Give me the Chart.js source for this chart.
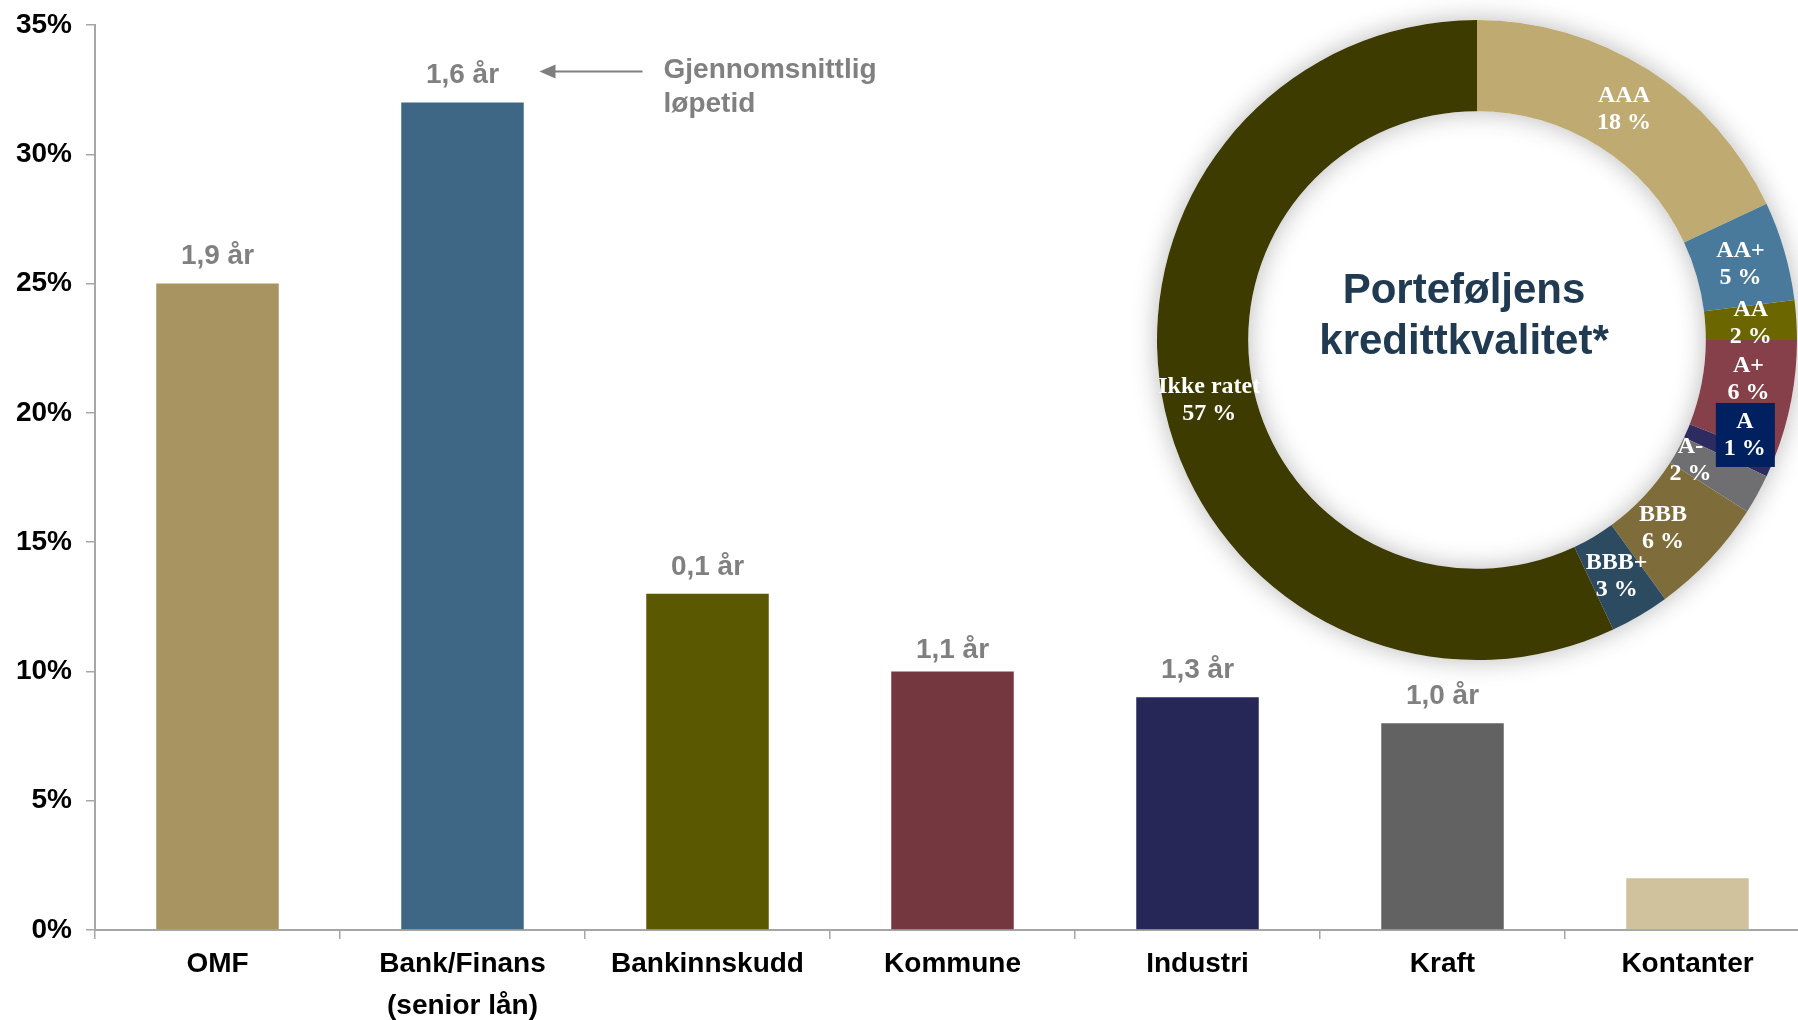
<!DOCTYPE html>
<html lang="no">
<head>
<meta charset="utf-8">
<title>Portefølje</title>
<script src="https://cdn.jsdelivr.net/npm/chart.js@4/dist/chart.umd.min.js"></script>
<style>
    html, body {
        margin: 0;
        padding: 0;
        background: #ffffff;
        overflow: hidden;
    }
    .stage {
        position: relative;
        width: 1798px;
        height: 1020px;
        overflow: hidden;
    }
    #barChart {
        position: absolute;
        left: 0;
        top: 0;
    }
    #ratingChart {
        position: absolute;
        left: 1127px;
        top: -10px;
    }
</style>
</head>
<body>

<div class="stage">
    <canvas id="barChart" width="1812" height="1020"></canvas>
    <canvas id="ratingChart" width="700" height="700"></canvas>
</div>

<script>

/* =========================
   DATA
========================= */

const sectors = [
    "OMF",
    ["Bank/Finans", "(senior lån)"],
    "Bankinnskudd",
    "Kommune",
    "Industri",
    "Kraft",
    "Kontanter"
];

const sectorShares = [25, 32, 13, 10, 9, 8, 2];

const durations = ["1,9 år", "1,6 år", "0,1 år", "1,1 år", "1,3 år", "1,0 år", ""];

const yTicks = [0, 5, 10, 15, 20, 25, 30, 35];

const ratings = ["AAA", "AA+", "AA", "A+", "A", "A-", "BBB", "BBB+", "Ikke ratet"];

const ratingShares = [18, 5, 2, 6, 1, 2, 6, 3, 57];

/* =========================
   STYLES
========================= */

const barColors = [
    "#a89460",
    "#3e6785",
    "#5a5800",
    "#743740",
    "#272757",
    "#626262",
    "#d0c29d"
];

const ratingColors = [
    "#bfaa72",
    "#4a7a9b",
    "#6b6600",
    "#86404a",
    "#2e2b60",
    "#6f6f71",
    "#7e6c3a",
    "#2c4a60",
    "#3d3b00"
];

// the Kommune label sits a little lower than the others
const durationDrop = [0, 0, 0, 6, 0, 0, 0];

// small manual nudges for the crowded rating labels
const labelNudge = {
    "A+": [2, -13],
    "A": [16, -14],
    "A-": [-27, -12],
    "BBB": [-14, 0]
};

const AXIS_GREY = "#a6a6a6";
const LABEL_GREY = "#808080";
const SANS = "'Liberation Sans', Arial, sans-serif";
const SERIF = "'Liberation Serif', 'Times New Roman', serif";

document.addEventListener("DOMContentLoaded", () => {

    initBarChart();

    initRatingChart();

});

/* =========================
   BAR CHART
========================= */

const durationLabels = {

    id: "durationLabels",

    afterDatasetsDraw(chart){

        const ctx = chart.ctx;
        const bars = chart.getDatasetMeta(0).data;

        ctx.save();
        ctx.fillStyle = LABEL_GREY;
        ctx.font = "bold 28px " + SANS;
        ctx.textAlign = "center";
        ctx.textBaseline = "middle";

        bars.forEach((bar, i) => {

            if(!durations[i]) return;

            ctx.fillText(durations[i], bar.x, bar.y - 27 + durationDrop[i]);

        });

        /* arrow + note next to the bank bar */

        const bank = bars[1];
        const ay = bank.y - 31;
        const tipX = bank.x + 77;
        const tailX = bank.x + 180;

        ctx.strokeStyle = "#7f7f7f";
        ctx.fillStyle = "#7f7f7f";
        ctx.lineWidth = 2;

        ctx.beginPath();
        ctx.moveTo(tailX, ay);
        ctx.lineTo(tipX + 12, ay);
        ctx.stroke();

        ctx.beginPath();
        ctx.moveTo(tipX, ay);
        ctx.lineTo(tipX + 16, ay - 7);
        ctx.lineTo(tipX + 16, ay + 7);
        ctx.closePath();
        ctx.fill();

        ctx.fillStyle = LABEL_GREY;
        ctx.textAlign = "left";
        ctx.fillText("Gjennomsnittlig", tailX + 21, ay - 1);
        ctx.fillText("løpetid", tailX + 21, ay + 33);

        ctx.restore();

    }

};

function initBarChart(){

    const barCtx = document.getElementById("barChart");

    new Chart(barCtx, {

        type: "bar",

        data: {

            labels: sectors,

            datasets: [{
                data: sectorShares,
                backgroundColor: barColors,
                borderWidth: 0,
                barPercentage: 0.5,
                categoryPercentage: 1
            }]

        },

        options: {

            responsive: false,
            animation: false,

            layout: {
                padding: { top: 25, right: 2, left: 0, bottom: 0 }
            },

            plugins: {
                legend: { display: false },
                tooltip: { enabled: false }
            },

            scales: {

                x: {
                    afterFit(scale){ scale.height = 90; },
                    border: { color: AXIS_GREY, width: 2 },
                    grid: {
                        drawOnChartArea: false,
                        color: AXIS_GREY,
                        lineWidth: 1.5,
                        tickLength: 9
                    },
                    ticks: {
                        color: "#000000",
                        padding: 4,
                        maxRotation: 0,
                        font: { family: SANS, size: 28, weight: "bold", lineHeight: 1.5 }
                    }
                },

                y: {
                    min: yTicks[0],
                    max: yTicks[yTicks.length - 1],
                    afterFit(scale){
                        scale.width = 95;
                        // keep the label padding from pushing the plot down
                        scale.paddingTop = 0;
                        scale.paddingBottom = 0;
                    },
                    afterBuildTicks(scale){
                        scale.ticks = yTicks.map(v => ({ value: v }));
                    },
                    border: { color: AXIS_GREY, width: 2 },
                    grid: {
                        drawOnChartArea: false,
                        color: AXIS_GREY,
                        lineWidth: 1.5,
                        tickLength: 9
                    },
                    ticks: {
                        color: "#000000",
                        padding: 14,
                        callback: v => v + "%",
                        font: { family: SANS, size: 28, weight: "bold" }
                    }
                }

            }

        },

        plugins: [durationLabels]

    });

}

/* =========================
   DOUGHNUT (CREDIT RATING)
========================= */

const ringShadow = {

    id: "ringShadow",

    beforeDatasetsDraw(chart){

        const arc = chart.getDatasetMeta(0).data[0];
        if(!arc) return;

        const ctx = chart.ctx;
        const { x, y, outerRadius, innerRadius } = arc.getProps(["x", "y", "outerRadius", "innerRadius"], true);

        ctx.save();
        ctx.shadowColor = "rgba(0,0,0,0.28)";
        ctx.shadowBlur = 26;
        ctx.fillStyle = "#ffffff";
        ctx.beginPath();
        ctx.arc(x, y, outerRadius, 0, Math.PI * 2);
        ctx.arc(x, y, innerRadius, 0, Math.PI * 2, true);
        ctx.fill("evenodd");
        ctx.restore();

    }

};

const ratingLabels = {

    id: "ratingLabels",

    afterDatasetsDraw(chart){

        const ctx = chart.ctx;
        const arcs = chart.getDatasetMeta(0).data;

        ctx.save();
        ctx.textAlign = "center";
        ctx.textBaseline = "middle";

        arcs.forEach((arc, i) => {

            const name = ratings[i];
            const pos = arc.tooltipPosition(true);
            const nudge = labelNudge[name] || [0, 0];
            const lx = pos.x + nudge[0];
            const ly = pos.y + nudge[1];

            if(name === "A"){
                ctx.fillStyle = "#002060";
                ctx.fillRect(lx - 29, ly - 32, 59, 64);
            }

            ctx.fillStyle = "#ffffff";
            ctx.font = "bold 24px " + SERIF;
            ctx.fillText(name, lx, ly - 13);
            ctx.fillText(ratingShares[i] + " %", lx, ly + 14);

        });

        /* title in the hole */

        const c = arcs[0];
        ctx.fillStyle = "#203a52";
        ctx.font = "bold 42px " + SANS;
        ctx.fillText("Porteføljens", c.x - 13, c.y - 49);
        ctx.fillText("kredittkvalitet*", c.x - 13, c.y + 2);

        ctx.restore();

    }

};

function initRatingChart(){

    const ratingCtx = document.getElementById("ratingChart");

    new Chart(ratingCtx, {

        type: "doughnut",

        data: {

            labels: ratings,

            datasets: [{
                data: ratingShares,
                backgroundColor: ratingColors,
                borderWidth: 0
            }]

        },

        options: {

            responsive: false,
            animation: false,
            cutout: "71.5%",

            layout: {
                padding: 30
            },

            plugins: {
                legend: { display: false },
                tooltip: { enabled: false }
            }

        },

        plugins: [ringShadow, ratingLabels]

    });

}

</script>
</body>
</html>
